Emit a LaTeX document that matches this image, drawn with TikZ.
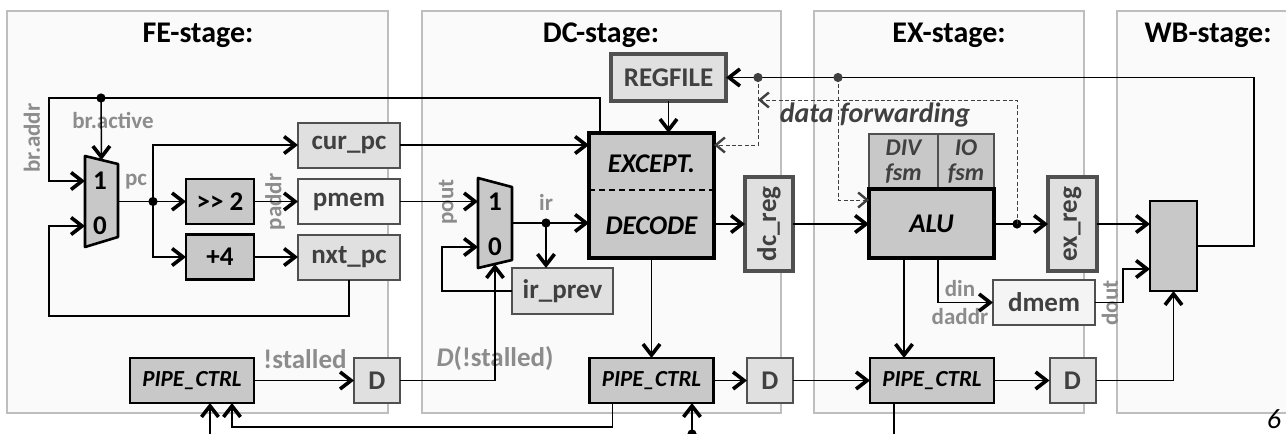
\documentclass[tikz,border=0pt]{standalone}
\usepackage{fontspec}
\setmainfont{Carlito}
\usepackage{graphicx}
\usetikzlibrary{arrows.meta,positioning}
\definecolor{stagebg}{HTML}{FAFAFA}
\definecolor{stageln}{HTML}{BEBEBE}
\definecolor{unitfill}{HTML}{C8C8C8}
\definecolor{regfill}{HTML}{E0E0E0}
\definecolor{memfill}{HTML}{F4F4F4}
\definecolor{regline}{HTML}{505050}
\definecolor{lblgray}{HTML}{8C8C8C}
\definecolor{txtdark}{HTML}{404040}

\begin{document}
\begin{tikzpicture}[x=0.5pt, y=-0.5pt,
  every node/.style={inner sep=0pt, outer sep=0pt},
  stage/.style={draw=stageln, fill=stagebg, line width=0.6pt, anchor=north west},
  title/.style={font=\fontsize{15}{18}\selectfont\bfseries},
  unit/.style={draw=black, fill=unitfill, line width=1.3pt, minimum width=34pt, minimum height=22.5pt, font=\fontsize{13.5}{16}\selectfont\bfseries},
  ctrl/.style={unit, minimum width=62pt, font=\fontsize{11.5}{14}\selectfont\bfseries\itshape},
  core/.style={unit, line width=1.8pt, font=\fontsize{13.5}{16}\selectfont\bfseries\itshape},
  fsm/.style={draw=regline, fill=unitfill, line width=1pt, minimum height=27.5pt, align=center, text=txtdark, font=\fontsize{12}{12.5}\selectfont\bfseries\itshape},
  muxshape/.style={draw=black, fill=unitfill, line width=1.3pt, line join=round},
  muxlbl/.style={font=\fontsize{13.5}{16}\selectfont\bfseries},
  reg/.style={draw=regline, fill=regfill, line width=1pt, minimum width=51pt, minimum height=22.5pt, text=txtdark, font=\fontsize{13.5}{16}\selectfont\bfseries},
  mem/.style={reg, fill=memfill},
  dreg/.style={reg, minimum width=23pt},
  bigreg/.style={reg, line width=2pt},
  lbl/.style={text=lblgray, font=\fontsize{11.5}{14}\selectfont\bfseries},
  biglbl/.style={lbl, font=\fontsize{13.5}{16}\selectfont\bfseries},
  wire/.style={line width=0.75pt},
  arr/.style={wire, -{Straight Barb[length=5.5pt,width=8.5pt,line width=1.8pt]}},
  fwd/.style={line width=0.5pt, draw=txtdark, dash pattern=on 2pt off 1.2pt, -{Straight Barb[length=4.5pt,width=7.5pt,line width=1.2pt,sep=0pt]}},
  dot/.style={circle, fill=black, minimum size=4.6pt}]
\clip (0,0) rectangle (1286,434);
\fill[white] (0,0) rectangle (1286,434);
% stages
\node[stage, minimum width=190.5pt, minimum height=201pt] (fe) at (7,11) {};
\node[stage, minimum width=179.5pt, minimum height=201pt] (dc) at (422,11) {};
\node[stage, minimum width=135pt, minimum height=201pt] (ex) at (814,11) {};
\node[stage, minimum width=91pt, minimum height=201pt] (wb) at (1117,11) {};
\node[title] at (198,35) {FE-stage:};
\node[title] at (601,35) {DC-stage:};
\node[title] at (949,35) {EX-stage:};
\node[title] at (1208,35) {WB-stage:};
% fetch
\node[minimum width=16.5pt, minimum height=45.5pt] (mux1) at (101.5,201.5) {};
\filldraw[muxshape] (mux1.north west) -- ([yshift=-4pt]mux1.north east) -- ([yshift=5pt]mux1.south east) -- (mux1.south west) -- cycle;
\node[muxlbl] (m1one) at (100,181) {1};
\node[muxlbl] (m1zero) at (100,226) {0};
\node[unit] (shr) at (220,201.5) {>\kern0pt> 2};
\node[unit] (plus4) at (220,257) {+4};
\node[reg] (curpc) at (349,145) {cur\_pc};
\node[mem] (pmem) at (349,201.5) {pmem};
\node[reg] (nxtpc) at (349,257) {nxt\_pc};
\node[dot] (brdot) at (101,98) {};
\node[dot] (pcdot) at (153,201.5) {};
\node[lbl] (bractive) at (113,120) {br.active};
\node[lbl, rotate=90] (braddr) at (32,138) {br.addr};
\node[lbl] (pclbl) at (136,182) {pc};
\node[lbl, rotate=90] (paddr) at (275,202) {paddr};
\draw[arr] (brdot.center) -| (49,181) -- (mux1.west |- m1one);
\draw[arr] (brdot.center) -- ([yshift=-2pt]mux1.north);
\draw[wire] (mux1.east) -- (pcdot.center);
\draw[arr] (pcdot.center) -- (shr);
\draw[arr] (pcdot.center) |- (curpc);
\draw[arr] (pcdot.center) |- (plus4);
\draw[arr] (shr) -- (pmem);
\draw[arr] (plus4) -- (nxtpc);
\draw[arr] (nxtpc.south) |- (49,316) |- (mux1.west |- m1zero);
\node[ctrl] (fepipe) at (192,380.5) {PIPE\_CTRL};
\node[dreg] (feD) at (377,380.5) {D};
\node[biglbl] (stall) at (305,359) {!stalled};
\draw[arr] (fepipe) -- (feD);
% decode
\node[bigreg, minimum width=57.5pt, minimum height=23.5pt] (regfile) at (668.5,77.5) {REGFILE};
\node[core, minimum width=62.5pt, minimum height=62.5pt] (dec) at (651.5,195.5) {};
\node[font=\fontsize{13.5}{16}\selectfont\bfseries\itshape] (except) at (651.5,164) {EXCEPT.};
\node[font=\fontsize{13.5}{16}\selectfont\bfseries\itshape] (decode) at (651.5,226) {DECODE};
\draw[line width=1.2pt, dash pattern=on 3pt off 2pt] (dec.west |- 0,190) -- (dec.east |- 0,190);
\node[minimum width=17pt, minimum height=45pt] (mux2) at (495,223) {};
\filldraw[muxshape] (mux2.north west) -- ([yshift=-4.5pt]mux2.north east) -- ([yshift=4pt]mux2.south east) -- (mux2.south west) -- cycle;
\node[muxlbl] (m2one) at (495,201.5) {1};
\node[muxlbl] (m2zero) at (495,247) {0};
\node[reg, minimum width=50.5pt, minimum height=23pt] (irprev) at (562.5,291) {ir\_prev};
\node[bigreg, minimum width=24pt, minimum height=47pt] (dcreg) at (769,224) {\rotatebox{90}{dc\_reg}};
\node[dot] (irdot) at (546,223) {};
\node[lbl] (irlbl) at (546,202) {ir};
\node[lbl, rotate=90] (pout) at (448,202) {pout};
\node[biglbl] (dstall) at (495,359) {\textit{D}(!stalled)};
\draw[arr] (pmem) -- (mux2.west |- m2one);
\draw[wire] (mux2.east) -- (irdot.center);
\draw[arr] (irdot.center) -- (dec.west |- irdot);
\draw[arr] (irdot.center) -- (irdot |- irprev.north);
\draw[arr] (irprev.west) -- (442,291) |- (mux2.west |- m2zero);
\draw[arr] (curpc) -- (dec.west |- curpc);
\draw[wire] ([xshift=5.5pt]dec.north west) |- (brdot.center);
\draw[arr] (regfile) -- (regfile |- dec.north);
\draw[arr] (dec.east |- dcreg) -- (dcreg);
\draw[arr] (feD) -| ([yshift=2pt]mux2.south);
\node[ctrl] (dcpipe) at (651.5,380.5) {PIPE\_CTRL};
\node[dreg] (dcD) at (770,380.5) {D};
\draw[arr] (dec.south) -- (dcpipe);
\draw[arr] (dcpipe) -- (dcD);
\draw[arr] ([xshift=-19.5pt]dcpipe.south) |- (232,427) -- ([xshift=20pt]fepipe.south);
\coordinate (fein) at (210,436);
\draw[arr] (fein) -- ([xshift=9pt]fepipe.south);
\node[dot] (dcin) at (692,434) {};
\draw[arr] (dcin.center) -- ([xshift=20.25pt]dcpipe.south);
% execute
\node[fsm, minimum width=34.5pt] (divfsm) at (903.5,161.5) {DIV\\fsm};
\node[fsm, minimum width=28pt] (iofsm) at (966,161.5) {IO\\fsm};
\node[core, minimum width=62.5pt, minimum height=34.5pt] (alu) at (931.5,223.5) {ALU};
\node[bigreg, minimum width=24.5pt, minimum height=47pt] (exreg) at (1072.5,224) {\rotatebox{90}{ex\_reg}};
\node[mem] (dmem) at (1044,302.5) {dmem};
\node[dot] (aludot) at (1017,224) {};
\node[lbl] (din) at (960,289) {din};
\node[lbl] (daddr) at (960,317) {daddr};
\node[lbl, rotate=90] (dout) at (1110,303) {dout};
\node[ctrl] (expipe) at (932,380.5) {PIPE\_CTRL};
\node[dreg] (exD) at (1072.5,380.5) {D};
\draw[arr] (dcreg) -- (alu.west |- dcreg);
\draw[arr] (dcD) -- (expipe);
\draw[wire] (alu.east |- aludot) -- (aludot.center);
\draw[arr] (aludot.center) -- (exreg);
\draw[arr] ([xshift=3.25pt]alu.south) |- (dmem);
\draw[arr] ([xshift=-13.75pt]alu.south) -- ([xshift=-14pt]expipe.north);
\draw[arr] (expipe) -- (exD);
\draw[wire] ([xshift=-19pt]expipe.south) -- ++(0,40);
% write back
\node[unit, minimum width=23.5pt, minimum height=45pt] (wbmux) at (1173.5,246) {};
\draw[arr] (exreg) -- (wbmux.west |- exreg);
\draw[arr] (dmem.east) -- (1123,302.5) |- ([yshift=-11.5pt]wbmux.west);
\draw[arr] (exD) -| (wbmux.south);
\draw[arr] (wbmux.east) -- (1254,246) |- (regfile.east);
% forwarding
\node[dot, fill=txtdark] (fwd1) at (758,77.5) {};
\node[dot, fill=txtdark] (fwd2) at (838,77.5) {};
\draw[fwd] (fwd1.center) |- (dec.east |- 0,145);
\draw[fwd] (fwd2.center) |- (alu.west |- 0,200);
\draw[fwd] (aludot.center) |- (fwd1 |- 0,100);
\node[text=txtdark, font=\fontsize{14}{16}\selectfont\bfseries\itshape] (fwdlbl) at (875,115) {data forwarding};
\node[anchor=east, font=\fontsize{14}{16}\selectfont\itshape] (pageno) at (1281,419) {6};
\end{tikzpicture}
\end{document}
